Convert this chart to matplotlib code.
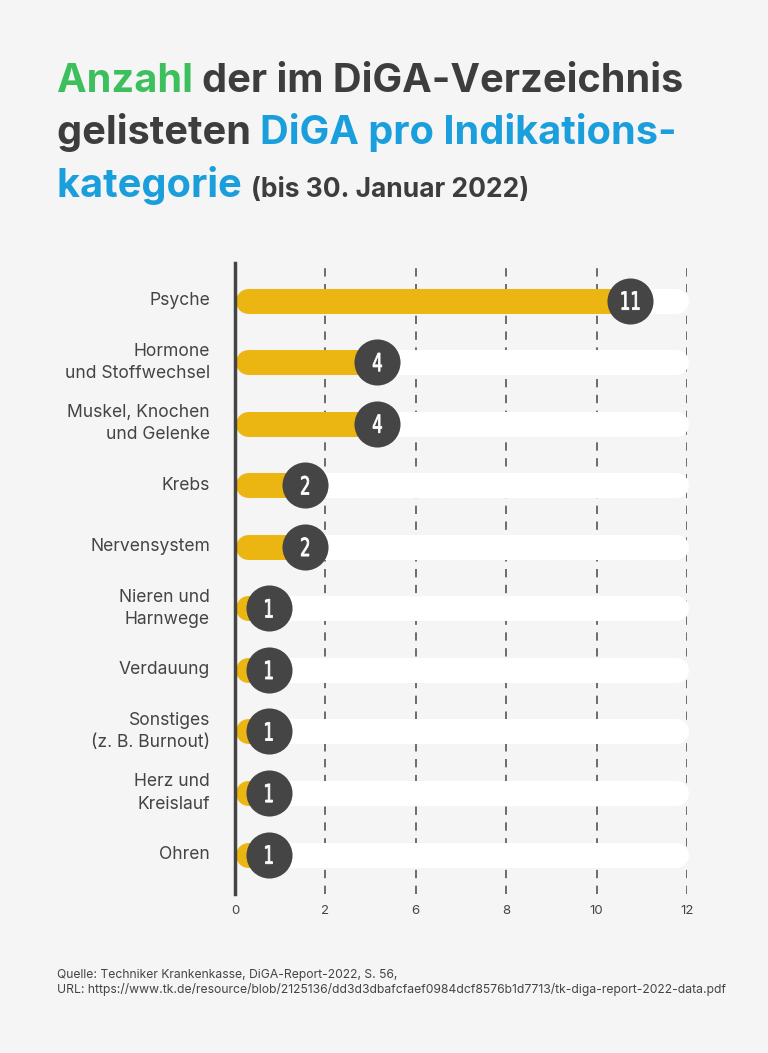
import numpy as np
import matplotlib
matplotlib.use("Agg")
import matplotlib.pyplot as plt
from matplotlib.transforms import IdentityTransform, Affine2D, ScaledTranslation
from matplotlib.textpath import TextPath
from matplotlib.patches import PathPatch
from matplotlib.font_manager import FontProperties

# Daten
kategorien = ["Psyche", "Hormone\nund Stoffwechsel", "Muskel, Knochen\nund Gelenke",
              "Krebs", "Nervensystem", "Nieren und\nHarnwege", "Verdauung",
              "Sonstiges\n(z. B. Burnout)", "Herz und\nKreislauf", "Ohren"]
anzahl = [11, 4, 4, 2, 2, 1, 1, 1, 1, 1]
tick_labels = ["0", "2", "6", "8", "10", "12"]
x_max = 12

BG = "#f5f5f5"
GELB = "#ebb512"
DUNKEL = "#454545"
TEXT = "#444444"
GRUEN = "#3cbf5c"
BLAU = "#1a9fdc"

plt.rcParams["font.family"] = ["Inter", "DejaVu Sans"]

W, H = 768, 1053
fig = plt.figure(figsize=(W / 100, H / 100), dpi=100, facecolor=BG)

ax = fig.add_axes([235 / W, (H - 894) / H, (687 - 235) / W, (894 - 263) / H])
ax.set_facecolor(BG)
ax.set_xlim(0, x_max)
ax.set_ylim(len(kategorien) - 0.36, -0.61)

# Raster + Achse
ax.set_xticks(np.linspace(0, x_max, len(tick_labels)))
ax.set_xticklabels(tick_labels, fontsize=9.5, color=TEXT)
ax.tick_params(axis="x", length=0, pad=8)
ax.set_yticks([])
ax.grid(axis="x", color="#555555", linestyle=(0, (5, 4.5)), linewidth=1.2)
ax.set_axisbelow(True)
for s in ["top", "right", "bottom"]:
    ax.spines[s].set_visible(False)
ax.spines["left"].set_color(TEXT)
ax.spines["left"].set_linewidth(2.5)
ax.spines["left"].set_zorder(10)

px_per_unit = (687 - 235) / x_max
bar_px = 25
hw = bar_px / 2 / px_per_unit
lw = bar_px * 0.72

zahl_font = FontProperties(family="DejaVu Sans", weight="normal")


def schmale_zahl(x, y, s):
    # Zahl schmal gestaucht, zentriert auf (x, y)
    tp = TextPath((0, 0), s, size=25, prop=zahl_font)
    ext = tp.get_extents()
    tr = (Affine2D().translate(-(ext.x0 + ext.x1) / 2, -(ext.y0 + ext.y1) / 2)
          .scale(0.66, 1.0)
          + ScaledTranslation(x, y, ax.transData))
    ax.add_patch(PathPatch(tp, transform=tr, facecolor="white",
                           edgecolor="white", lw=0.6, zorder=6))


for i, (kat, v) in enumerate(zip(kategorien, anzahl)):
    # weisse Spur
    ax.plot([hw, x_max + 0.03 - hw], [i, i], color="white", lw=lw,
            solid_capstyle="round", zorder=3, clip_on=False)
    c = 0.96 * v - 0.06
    ax.plot([hw, c], [i, i], color=GELB, lw=lw, solid_capstyle="round", zorder=4)
    ax.scatter([c], [i], s=1100, color=DUNKEL, zorder=5, linewidths=0)
    schmale_zahl(c, i, str(v))
    ax.text(-25 / px_per_unit, i, kat, ha="right", va="center", fontsize=12.6,
            color=TEXT, linespacing=1.4)

# Titel
fig.canvas.draw()
renderer = fig.canvas.get_renderer()


def titelzeile(y_px, teile):
    x = 57
    for txt, farbe, groesse in teile:
        t = fig.text(x, H - y_px, txt, color=farbe, fontsize=groesse,
                     fontweight="bold", va="baseline", ha="left",
                     transform=IdentityTransform())
        x += t.get_window_extent(renderer).width


titelzeile(92, [("Anzahl ", GRUEN, 28.6), ("der im DiGA-Verzeichnis", "#3d3d3d", 28.6)])
titelzeile(144, [("gelisteten ", "#3d3d3d", 28.6), ("DiGA pro Indikations-", BLAU, 28.6)])
titelzeile(197, [("kategorie ", BLAU, 28.6), ("(bis 30. Januar 2022)", "#3d3d3d", 19)])

# Quelle
fig.text(57, H - 978, "Quelle: Techniker Krankenkasse, DiGA-Report-2022, S. 56,",
         fontsize=8.75, color=TEXT, va="baseline", transform=IdentityTransform())
fig.text(57, H - 993,
         "URL: https://www.tk.de/resource/blob/2125136/dd3d3dbafcfaef0984dcf8576b1d7713/tk-diga-report-2022-data.pdf",
         fontsize=8.75, color=TEXT, va="baseline", transform=IdentityTransform())

fig.savefig("out.png", dpi=100, facecolor=BG)
